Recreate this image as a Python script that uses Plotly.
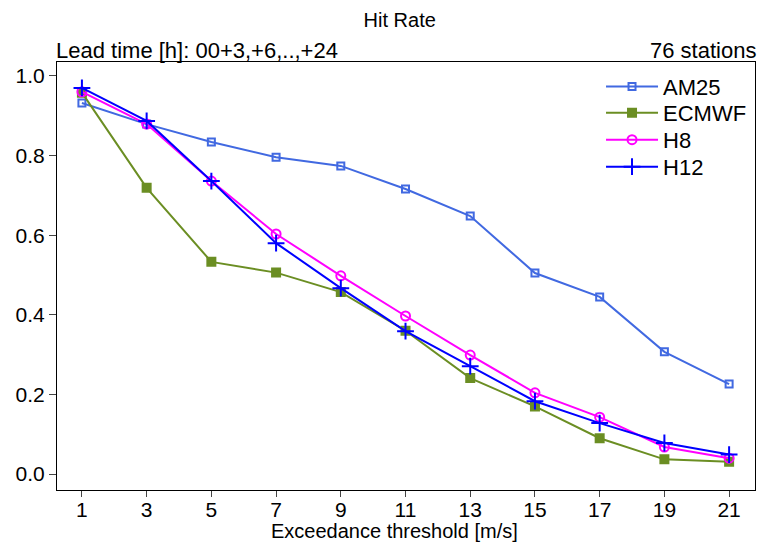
import plotly.graph_objects as go

thresholds = [1, 3, 5, 7, 9, 11, 13, 15, 17, 19, 21]
am25 = [0.932, 0.879, 0.834, 0.796, 0.774, 0.716, 0.648, 0.505, 0.445, 0.307, 0.226]
ecmwf = [0.958, 0.719, 0.533, 0.506, 0.457, 0.360, 0.241, 0.170, 0.090, 0.037, 0.031]
h8 = [0.960, 0.879, 0.736, 0.603, 0.498, 0.397, 0.299, 0.204, 0.143, 0.068, 0.040]
h12 = [0.970, 0.887, 0.736, 0.580, 0.467, 0.359, 0.271, 0.183, 0.128, 0.078, 0.049]
tick_vals = [0.0, 0.2, 0.4, 0.6, 0.8, 1.0]
tick_text = ["0.0", "0.2", "0.4", "0.6", "0.8", "1.0"]

FONT = "Liberation Sans, Arial, sans-serif"

fig = go.Figure()
series = [
    ("AM25", am25, "#4169E1", "square-open", 7, "legend", 0.942),
    ("ECMWF", ecmwf, "#6B8E23", "square", 8, "legend2", 0.881),
    ("H8", h8, "#FF00FF", "circle-open", 9, "legend3", 0.818),
    ("H12", h12, "#0000FF", "cross-thin-open", 12, "legend4", 0.755),
]
legends = {}
for name, vals, col, sym, sz, lg, ly in series:
    fig.add_trace(go.Scatter(
        x=thresholds, y=vals, name=name, mode="lines+markers",
        line=dict(color=col, width=2), legend=lg,
        marker=dict(symbol=sym, size=sz, color=col, line=dict(color=col, width=2)),
    ))
    legends[lg] = dict(x=0.7794, y=ly, xanchor="left", yanchor="middle",
                       bgcolor="rgba(0,0,0,0)", font=dict(size=22),
                       itemwidth=52)

fig.update_layout(
    width=757, height=549,
    margin=dict(l=57, r=2, t=62, b=59),
    plot_bgcolor="white", paper_bgcolor="white",
    font=dict(family=FONT, size=21, color="black"),
    title=dict(text="Hit Rate", x=0.528, xanchor="center", y=0.963, yanchor="middle",
               font=dict(size=20)),
    xaxis=dict(range=[0.23, 21.8], tickvals=thresholds, ticks="outside", ticklen=6,
               showgrid=False, zeroline=False, showline=True, linecolor="black",
               mirror=True, linewidth=1, automargin=False,
               tickfont=dict(size=21), ticklabelstandoff=-5),
    yaxis=dict(range=[-0.04, 1.035], tickvals=tick_vals, ticktext=tick_text,
               ticks="outside", ticklen=7, showgrid=False, zeroline=False,
               showline=True, linecolor="black", mirror=True, linewidth=1,
               automargin=False, tickfont=dict(size=21)),
    showlegend=True,
    **legends,
)
fig.add_annotation(text="Exceedance threshold [m/s]", xref="paper", yref="paper",
                   x=0.483, y=-0.0958, xanchor="center", yanchor="middle",
                   showarrow=False, font=dict(size=20))
fig.add_annotation(text="Lead time [h]: 00+3,+6,..,+24", xref="paper", yref="paper",
                   x=0, y=1.0, xanchor="left", yanchor="bottom", showarrow=False,
                   xshift=-3, yshift=-3, font=dict(size=22))
fig.add_annotation(text="76 stations", xref="paper", yref="paper",
                   x=1, y=1.0, xanchor="right", yanchor="bottom", showarrow=False,
                   xshift=3, yshift=-3, font=dict(size=22))

fig.write_html("out.html", config={"displayModeBar": False},
               post_script="document.body.style.margin='0';document.body.style.overflow='hidden';")
